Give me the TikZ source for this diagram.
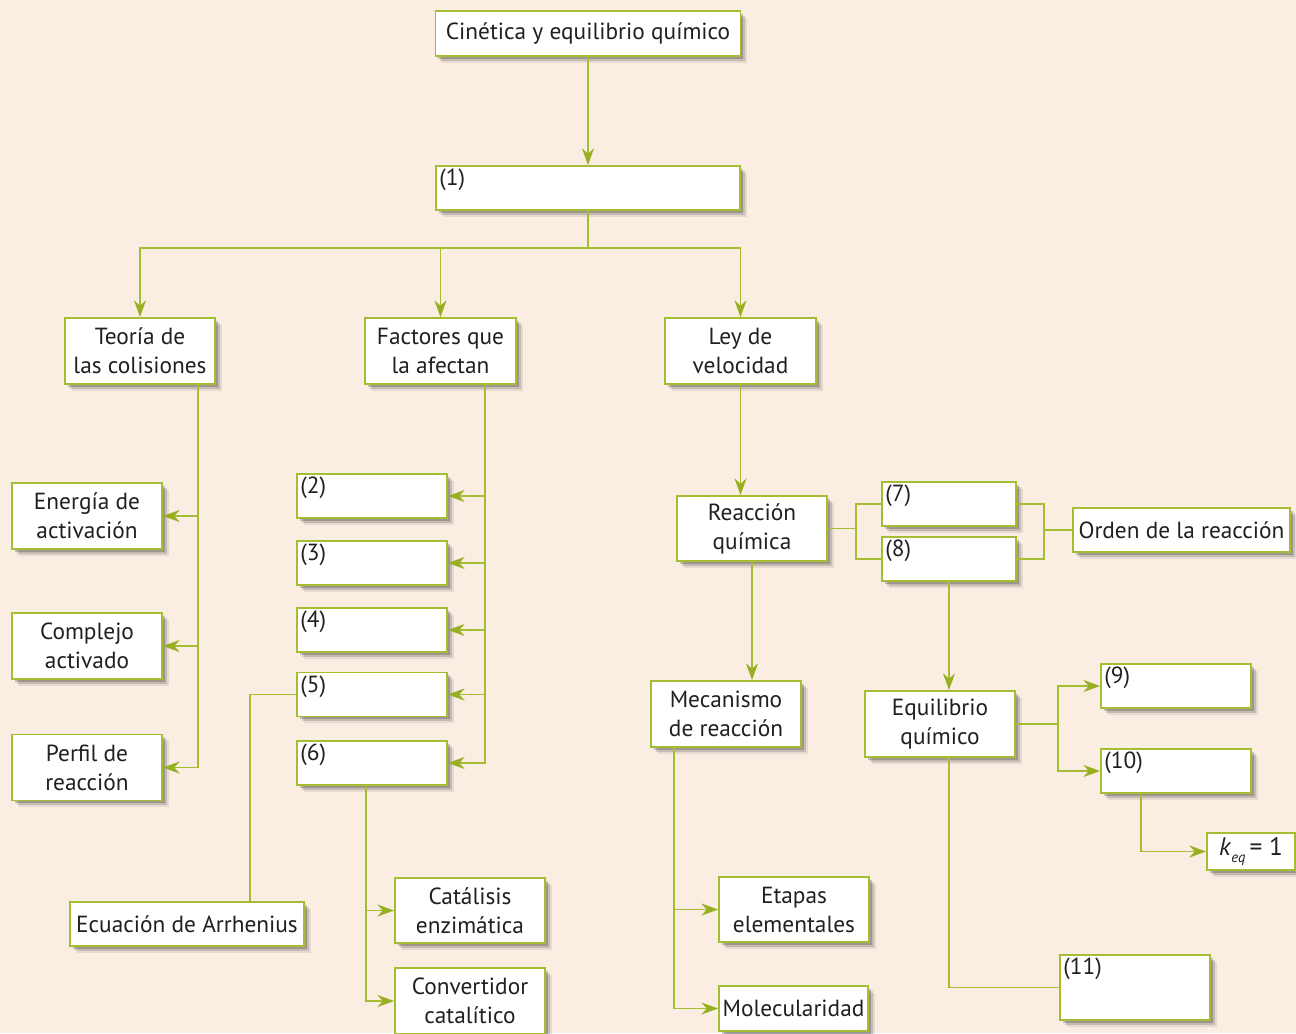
\documentclass[tikz,border=0pt]{standalone}
\usepackage{fontspec}
\setmainfont{PT Sans}
\usetikzlibrary{arrows.meta,shadows}

\definecolor{paper}{HTML}{FAEDE2}
\definecolor{leafgreen}{HTML}{A4BD33}
\definecolor{tipgreen}{HTML}{97B022}
\definecolor{ink}{HTML}{231F20}
\newcommand{\pxu}{0.75pt}

\begin{document}
\begin{tikzpicture}[x=\pxu,y=-\pxu,
  font=\fontsize{17.5}{21.75}\selectfont,
  box/.style 2 args={draw=leafgreen,fill=white,line width=1.4pt,
    align=center,text=ink,inner sep=0pt,
    minimum width=#1*\pxu,minimum height=#2*\pxu,
    drop shadow={shadow xshift=5pt,shadow yshift=-5pt,opacity=.08,fill=black},
    drop shadow={shadow xshift=3.5pt,shadow yshift=-3.5pt,opacity=.14,fill=black},
    drop shadow={shadow xshift=2pt,shadow yshift=-2pt,opacity=.2,fill=black}},
  slot/.style={label={[anchor=north west,inner sep=3pt,text=ink]north west:#1}},
  plain/.style={draw=leafgreen,line width=1.4pt},
  link/.style={plain,-{Stealth[length=12.5pt,width=9pt,inset=4pt,color=tipgreen]}}]
\fill[paper] (0,0) rectangle (1296,1033);
\path[use as bounding box] (0,0) rectangle (1296,1033);

% top of the map
\node[box={305}{45}] (tema) at (588,33.5) {Cinética y equilibrio químico};
\node[box={304}{44},slot=(1)] (n1) at (588,188) {};

\node[box={150}{66}] (teoria) at (140,351) {Teoría de\\las colisiones};
\node[box={151}{66}] (factores) at (440.5,351) {Factores que\\la afectan};
\node[box={151}{66}] (ley) at (740.5,351) {Ley de\\velocidad};

% left column
\node[box={150}{66}] (energia) at (87,516) {Energía de\\activación};
\node[box={150}{66}] (complejo) at (87,646) {Complejo\\activado};
\node[box={150}{66}] (perfil) at (87,767.5) {Perfil de\\reacción};

% factores
\node[box={150}{44},slot=(2)] (n2) at (372,496) {};
\node[box={150}{44},slot=(3)] (n3) at (372,563) {};
\node[box={150}{44},slot=(4)] (n4) at (372,630) {};
\node[box={150}{44},slot=(5)] (n5) at (372,694.5) {};
\node[box={150}{44},slot=(6)] (n6) at (372,763) {};
\node[box={234}{44}] (arrhenius) at (187,924) {Ecuación de Arrhenius};
\node[box={150}{65}] (catalisis) at (470,910.5) {Catálisis\\enzimática};
\node[box={150}{66}] (convertidor) at (470,1001) {Convertidor\\catalítico};

% ley de velocidad
\node[box={150}{65}] (reaccion) at (752,528.5) {Reacción\\química};
\node[box={134}{44},slot=(7)] (n7) at (949,504) {};
\node[box={134}{44},slot=(8)] (n8) at (949,559) {};
\node[box={217}{44}] (orden) at (1181.5,530) {Orden de la reacción};
\node[box={150}{66}] (mecanismo) at (726,714) {Mecanismo\\de reacción};
\node[box={150}{65}] (etapas) at (794,909.5) {Etapas\\elementales};
\node[box={149}{45}] (molec) at (793.5,1008.5) {Molecularidad};

% equilibrio
\node[box={150}{66}] (equilibrio) at (940,724) {Equilibrio\\químico};
\node[box={150}{44},slot=(9)] (n9) at (1176,686) {};
\node[box={150}{44},slot=(10)] (n10) at (1176,771) {};
\node[box={88}{37},font=\fontsize{19}{21}\selectfont] (keq) at (1251,851.5)
  {\textit{k}\raisebox{-0.5ex}{\fontsize{11}{11}\selectfont\textit{eq}}\,= 1};
\node[box={150}{65},slot=(11)] (n11) at (1135,987.5) {};

% connectors
\draw[link] (tema) -- (n1);
\draw[plain] (n1.south) -- ++(0,37) coordinate (hub1);
\draw[link] (hub1) -| (teoria);
\draw[link] (hub1) -| (factores);
\draw[link] (hub1) -| (ley);

\draw[link] ([xshift=-18*\pxu]teoria.south east) |- (energia);
\draw[link] ([xshift=-18*\pxu]teoria.south east) |- (complejo);
\draw[link] ([xshift=-18*\pxu]teoria.south east) |- (perfil);

\draw[link] ([xshift=-32*\pxu]factores.south east) |- (n2);
\draw[link] ([xshift=-32*\pxu]factores.south east) |- (n3);
\draw[link] ([xshift=-32*\pxu]factores.south east) |- (n4);
\draw[link] ([xshift=-32*\pxu]factores.south east) |- (n5);
\draw[link] ([xshift=-32*\pxu]factores.south east) |- (n6);
\draw[plain] (n5.west) -| ([xshift=63*\pxu]arrhenius.north);
\draw[link] ([xshift=-6*\pxu]n6.south) |- (catalisis);
\draw[link] ([xshift=-6*\pxu]n6.south) |- (convertidor);

\draw[link] (ley) -- (ley |- reaccion.north);
\draw[plain] (reaccion.east) -- ++(28,0) coordinate (hub2);
\draw[plain] (hub2) |- (n7);
\draw[plain] (hub2) |- (n8);
\coordinate (hub3) at (1044,530);
\draw[plain] (n7) -| (hub3) |- (n8);
\draw[plain] (hub3) -- (orden);
\draw[link] (n8) -- (n8 |- equilibrio.north);
\draw[link] (reaccion) -- (reaccion |- mecanismo.north);
\draw[link] ([xshift=24*\pxu]mecanismo.south west) |- (etapas);
\draw[link] ([xshift=24*\pxu]mecanismo.south west) |- (molec);

\draw[plain] (equilibrio.east) -- ++(42,0) coordinate (hub4);
\draw[link] (hub4) |- (n9);
\draw[link] (hub4) |- (n10);
\draw[link] ([xshift=41*\pxu]n10.south west) |- (keq);
\draw[plain] ([xshift=9*\pxu]equilibrio.south) |- (n11);
\end{tikzpicture}
\end{document}
